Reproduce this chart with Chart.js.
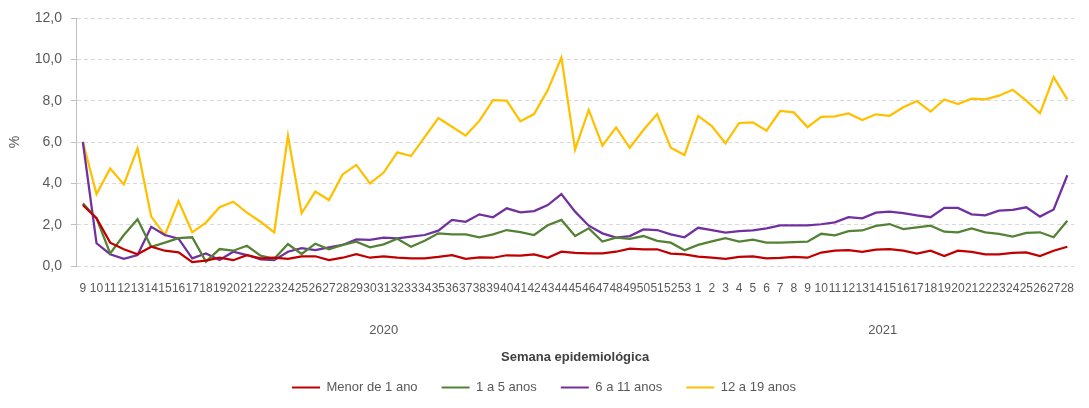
<!DOCTYPE html>
<html lang="pt">
<head>
<meta charset="utf-8">
<title>Semana epidemiológica</title>
<script src="https://cdn.jsdelivr.net/npm/chart.js@4"></script>
<style>
  html, body { margin: 0; padding: 0; background: #fff; }
  #wrap { width: 1089px; height: 408px; position: relative; }
</style>
</head>
<body>
<div id="wrap"><canvas id="grafico"></canvas></div>
<script>
const SEMANAS_2020 = [9, 10, 11, 12, 13, 14, 15, 16, 17, 18, 19, 20, 21, 22, 23, 24, 25, 26, 27, 28, 29, 30, 31, 32, 33, 34, 35, 36, 37, 38, 39, 40, 41, 42, 43, 44, 45, 46, 47, 48, 49, 50, 51, 52, 53];
const SEMANAS_2021 = [1, 2, 3, 4, 5, 6, 7, 8, 9, 10, 11, 12, 13, 14, 15, 16, 17, 18, 19, 20, 21, 22, 23, 24, 25, 26, 27, 28];
const ANOS = ["2020", "2021"];

const MENOR_1 = [2.95, 2.31, 1.13, 0.81, 0.57, 0.93, 0.74, 0.66, 0.19, 0.26,
  0.40, 0.28, 0.52, 0.37, 0.40, 0.35, 0.47, 0.47, 0.29, 0.40,
  0.57, 0.40, 0.47, 0.40, 0.37, 0.37, 0.44, 0.53, 0.35, 0.42,
  0.40, 0.52, 0.50, 0.56, 0.40, 0.69, 0.63, 0.61, 0.61, 0.69,
  0.84, 0.81, 0.81, 0.60, 0.56, 0.45, 0.40, 0.34, 0.44, 0.47,
  0.37, 0.39, 0.44, 0.40, 0.65, 0.74, 0.77, 0.68, 0.79, 0.82,
  0.74, 0.60, 0.74, 0.48, 0.74, 0.68, 0.56, 0.56, 0.63, 0.66,
  0.48, 0.74, 0.93];
const DE_1_A_5 = [3.03, 2.31, 0.61, 1.50, 2.26, 0.93, 1.13, 1.35, 1.39, 0.21,
  0.82, 0.74, 0.98, 0.50, 0.35, 1.06, 0.58, 1.08, 0.81, 1.02,
  1.18, 0.90, 1.05, 1.32, 0.93, 1.22, 1.58, 1.53, 1.53, 1.39,
  1.53, 1.74, 1.64, 1.50, 1.97, 2.23, 1.45, 1.82, 1.18, 1.37,
  1.31, 1.45, 1.22, 1.13, 0.76, 1.02, 1.19, 1.35, 1.18, 1.27,
  1.13, 1.13, 1.15, 1.18, 1.56, 1.48, 1.69, 1.72, 1.94, 2.03,
  1.79, 1.87, 1.95, 1.66, 1.63, 1.82, 1.63, 1.55, 1.42, 1.60,
  1.63, 1.39, 2.19];
const DE_6_A_11 = [6.00, 1.10, 0.57, 0.35, 0.53, 1.90, 1.50, 1.32, 0.37, 0.61,
  0.29, 0.69, 0.53, 0.32, 0.28, 0.69, 0.86, 0.77, 0.90, 1.02,
  1.29, 1.26, 1.37, 1.34, 1.42, 1.50, 1.71, 2.23, 2.14, 2.50,
  2.36, 2.79, 2.60, 2.66, 2.95, 3.48, 2.63, 1.95, 1.58, 1.37,
  1.45, 1.77, 1.74, 1.53, 1.39, 1.85, 1.74, 1.61, 1.69, 1.72,
  1.82, 1.97, 1.97, 1.97, 2.02, 2.11, 2.36, 2.31, 2.58, 2.63,
  2.56, 2.45, 2.36, 2.81, 2.81, 2.50, 2.45, 2.68, 2.72, 2.84,
  2.39, 2.74, 4.39];
const DE_12_A_19 = [6.01, 3.48, 4.72, 3.95, 5.69, 2.39, 1.50, 3.14, 1.63, 2.10,
  2.84, 3.11, 2.58, 2.14, 1.63, 6.31, 2.55, 3.60, 3.19, 4.43,
  4.89, 4.00, 4.52, 5.50, 5.32, 6.24, 7.16, 6.74, 6.31, 7.02,
  8.03, 8.00, 7.00, 7.35, 8.51, 10.08, 5.64, 7.55, 5.82, 6.71,
  5.72, 6.58, 7.35, 5.72, 5.37, 7.26, 6.77, 5.93, 6.92, 6.95,
  6.55, 7.50, 7.43, 6.72, 7.22, 7.24, 7.38, 7.06, 7.34, 7.27,
  7.68, 7.98, 7.47, 8.06, 7.84, 8.10, 8.06, 8.24, 8.53, 8.00,
  7.39, 9.14, 8.06];

const FONTE = '"Liberation Sans", Arial, sans-serif';
const CINZA = "#595959";

const labels = SEMANAS_2020.concat(SEMANAS_2021).map(String);

// rótulo do ano centrado sob as semanas de cada ano
const anosPlugin = {
  id: "anos",
  afterDraw(chart) {
    const x = chart.scales.x;
    const ctx = chart.ctx;
    const grupos = [SEMANAS_2020.length, SEMANAS_2021.length];
    let ini = 0;
    ctx.save();
    ctx.font = "13px " + FONTE;
    ctx.fillStyle = CINZA;
    ctx.textAlign = "center";
    ctx.textBaseline = "middle";
    grupos.forEach((n, k) => {
      const cx = (x.getPixelForValue(ini) + x.getPixelForValue(ini + n - 1)) / 2;
      ctx.fillText(ANOS[k], cx, chart.chartArea.bottom + 64);
      ini += n;
    });
    ctx.restore();
  },
};

function serie(label, data, cor) {
  return {
    label,
    data,
    borderColor: cor,
    backgroundColor: cor,
    borderWidth: 2.25,
    pointRadius: 0,
    tension: 0,
    fill: false,
  };
}

new Chart(document.getElementById("grafico"), {
  type: "line",
  data: {
    labels,
    datasets: [
      serie("Menor de 1 ano", MENOR_1, "#C00000"),
      serie("1 a 5 anos", DE_1_A_5, "#548235"),
      serie("6 a 11 anos", DE_6_A_11, "#7030A0"),
      serie("12 a 19 anos", DE_12_A_19, "#FFC000"),
    ],
  },
  options: {
    responsive: true,
    maintainAspectRatio: false,
    animation: false,
    layout: { padding: { top: 18, right: 1, left: 0, bottom: 4 } },
    plugins: {
      tooltip: { enabled: false },
      legend: {
        position: "bottom",
        labels: {
          color: CINZA,
          font: { family: FONTE, size: 13 },
          boxWidth: 28,
          boxHeight: 2,
          padding: 24,
          generateLabels: (chart) =>
            Chart.defaults.plugins.legend.labels.generateLabels(chart).map((l) => ({
              ...l,
              fillStyle: l.strokeStyle,
              lineWidth: 0,
            })),
        },
      },
    },
    scales: {
      x: {
        offset: true,
        grid: { display: false, drawTicks: false },
        border: { display: false },
        ticks: {
          autoSkip: false,
          maxRotation: 0,
          minRotation: 0,
          padding: 15,
          color: CINZA,
          font: { family: FONTE, size: 12 },
        },
        title: {
          display: true,
          text: "Semana epidemiológica",
          color: "#404040",
          font: { family: FONTE, size: 13, weight: "bold" },
          padding: { top: 0, bottom: -8 },
        },
        afterFit: (s) => {
          s.height = s.chart.height - 266 - s.chart.legend.height - 4;
        },
      },
      y: {
        min: 0,
        max: 12,
        grid: { color: "#d9d9d9", tickLength: 5, tickColor: "#bfbfbf" },
        border: { display: true, color: "#bfbfbf", dash: [4, 3] },
        ticks: {
          stepSize: 2,
          padding: 9,
          color: CINZA,
          font: { family: FONTE, size: 14 },
          callback: (v) => v.toFixed(1).replace(".", ","),
        },
        title: {
          display: true,
          text: "%",
          color: CINZA,
          font: { family: FONTE, size: 14 },
          padding: { top: 7, bottom: 0 },
        },
        afterFit: (s) => { s.width = 76; },
      },
    },
  },
  plugins: [anosPlugin],
});
</script>
</body>
</html>
